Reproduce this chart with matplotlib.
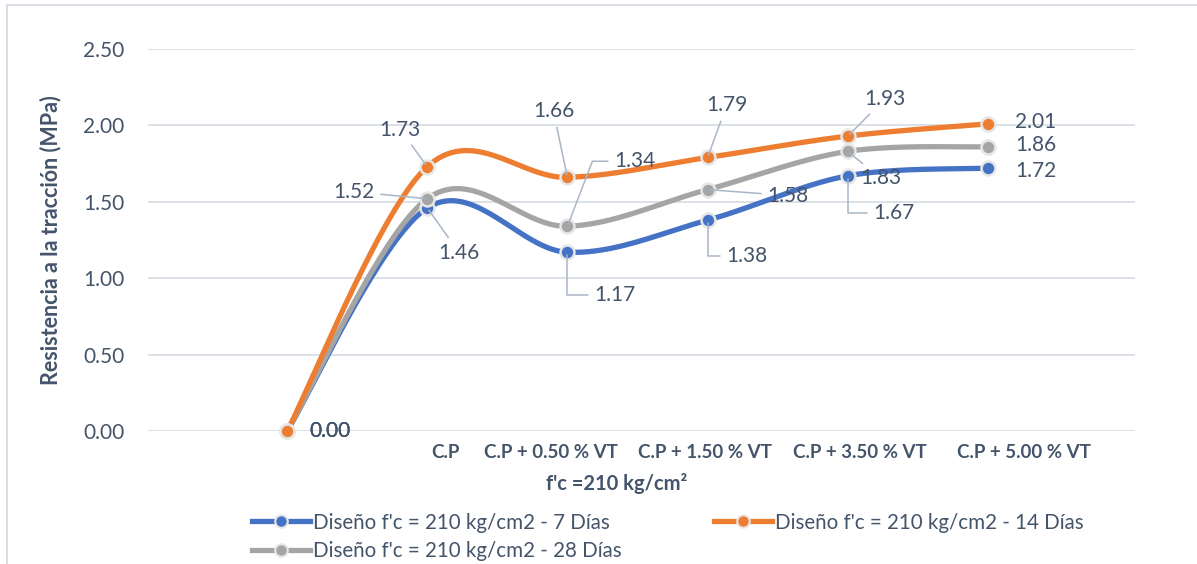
import numpy as np
import matplotlib
matplotlib.use("Agg")
import matplotlib.pyplot as plt
from matplotlib.lines import Line2D

# data
categories = ["", "C.P", "C.P + 0.50 % VT", "C.P + 1.50 % VT",
              "C.P + 3.50 % VT", "C.P + 5.00 % VT"]
dias_7 = [0.00, 1.46, 1.17, 1.38, 1.67, 1.72]
dias_14 = [0.00, 1.73, 1.66, 1.79, 1.93, 2.01]
dias_28 = [0.00, 1.52, 1.34, 1.58, 1.83, 1.86]
series_names = ["Diseño f'c = 210 kg/cm2 - 7 Días",
                "Diseño f'c = 210 kg/cm2 - 14 Días",
                "Diseño f'c = 210 kg/cm2 - 28 Días"]
y_ticks = [0.0, 0.5, 1.0, 1.5, 2.0, 2.5]

# layout / style
tick_pos = [1.13, 1.88, 2.98, 4.09, 5.26]   # Excel put the category labels a bit off
TXT = "#44546A"
GRID = "#D9DEE6"
LEAD = "#A9B6C8"
colors = {"7": "#4472C4", "14": "#ED7D31", "28": "#A5A5A5"}

# label offsets (pixels) and leader style for each point, per series
# s = straight leader, e = elbow (horizontal then vertical), d = horizontal then diagonal
off_14 = [(43, 0, None), (-27, 37, "s"), (-14, 66, "s"), (19, 52, "s"),
          (37, 37, "s"), (48, 2, None)]
off_28 = [(43, 0, None), (-73, 7, "s"), (67, 65, "d"), (80, -6, "s"),
          (33, -27, "s"), (48, 2, None)]
off_7 = [(43, 0, None), (32, -45, "s"), (47, -43, "e"), (39, -36, "e"),
         (46, -37, "e"), (48, -3, None)]

plt.rcParams["font.family"] = ["Lato", "DejaVu Sans"]


def smooth(x, y, n=40):
    """Catmull-Rom style bezier smoothing, like Excel's smoothed line."""
    pts = np.column_stack([x, y]).astype(float)
    ext = np.vstack([pts[0], pts, pts[-1]])
    out = []
    for i in range(len(pts) - 1):
        p0, p1, p2, p3 = ext[i], ext[i + 1], ext[i + 2], ext[i + 3]
        c1 = p1 + (p2 - p0) / 6
        c2 = p2 - (p3 - p1) / 6
        t = np.linspace(0, 1, n)[:, None]
        seg = ((1 - t) ** 3 * p1 + 3 * (1 - t) ** 2 * t * c1
               + 3 * (1 - t) * t ** 2 * c2 + t ** 3 * p2)
        out.append(seg if i == 0 else seg[1:])
    out = np.vstack(out)
    return out[:, 0], out[:, 1]


fig = plt.figure(figsize=(11.97, 5.64), dpi=100)
ax = fig.add_axes([148 / 1197, 1 - 431 / 564, (1135 - 148) / 1197, (431 - 49) / 564])

x = np.arange(len(categories))
series = [(dias_7, colors["7"], off_7, series_names[0]),
          (dias_28, colors["28"], off_28, series_names[2]),
          (dias_14, colors["14"], off_14, series_names[1])]

for vals, col, offs, name in series:
    sx, sy = smooth(x, vals)
    ax.plot(sx, sy, color=col, lw=3.8, solid_capstyle="round", clip_on=False, zorder=3)
    ax.plot(x, vals, "o", color=col, ms=10, mec="#E6E6E6", mew=1.8,
            clip_on=False, zorder=4)
    for xi, v, (dx, dy, lead) in zip(x, vals, offs):
        kw = {}
        if lead == "s":
            kw["arrowprops"] = dict(arrowstyle="-", color=LEAD, lw=1.1,
                                    shrinkA=2, shrinkB=2)
        elif lead == "e":
            kw["arrowprops"] = dict(arrowstyle="-", color=LEAD, lw=1.1,
                                    shrinkA=2, shrinkB=2,
                                    connectionstyle="angle,angleA=0,angleB=90,rad=0")
        elif lead == "d":
            kw["arrowprops"] = dict(arrowstyle="-", color=LEAD, lw=1.1,
                                    shrinkA=2, shrinkB=2, relpos=(0, 0.5),
                                    connectionstyle="angle,angleA=0,angleB=69,rad=0")
        ax.annotate(f"{v:.2f}", (xi, v), xytext=(dx, dy), textcoords="offset pixels",
                    ha="center", va="center", fontsize=15, color=TXT,
                    bbox=dict(boxstyle="square,pad=0.15", fc="none", ec="none"),
                    annotation_clip=False, zorder=5, **kw)

ax.set_xlim(-0.993, 6.05)
ax.set_ylim(0, 2.5)
ax.set_yticks(y_ticks)
ax.set_yticklabels([f"{t:.2f}" for t in y_ticks], fontsize=15, color=TXT)
ax.set_xticks(tick_pos)
ax.set_xticklabels(categories[1:], fontsize=13.5, fontweight="bold", color=TXT)
ax.tick_params(axis="both", length=0)
ax.tick_params(axis="y", pad=17)
ax.tick_params(axis="x", pad=9)
ax.grid(axis="y", color=GRID, lw=1.3)
ax.set_axisbelow(True)
for s in ax.spines.values():
    s.set_visible(False)

ax.set_ylabel("Resistencia a la tracción (MPa)", fontsize=15.5, fontweight="bold",
              color=TXT)
ax.yaxis.set_label_coords(-(148 - 61) / 987, 0.5)
fig.text(617 / 1197, 1 - 483 / 564, "f'c =210 kg/cm²", ha="center", va="center",
         fontsize=14.5, fontweight="bold", color=TXT)

handles = [Line2D([], [], color=c, lw=3.8, marker="o", ms=9, mec="#E6E6E6", mew=1.5)
           for c in (colors["7"], colors["28"], colors["14"])]
labels = [series_names[0], series_names[2], series_names[1]]
fig.legend(handles, labels, ncol=2, loc="center", bbox_to_anchor=(668 / 1197, 1 - 537 / 564),
           frameon=False, fontsize=14.8, labelcolor=TXT, handlelength=2.8,
           handletextpad=0.15, columnspacing=4.5, labelspacing=0.42, borderpad=0)

# chart-area frame (only top and left edges are visible in the crop)
fig.add_artist(Line2D([7 / 1197, 7 / 1197], [0, 1 - 5 / 564], transform=fig.transFigure,
                      color="#D9DEE6", lw=1.5))
fig.add_artist(Line2D([7 / 1197, 1], [1 - 5 / 564, 1 - 5 / 564], transform=fig.transFigure,
                      color="#D9DEE6", lw=1.5))

fig.savefig("out.png", dpi=100)
